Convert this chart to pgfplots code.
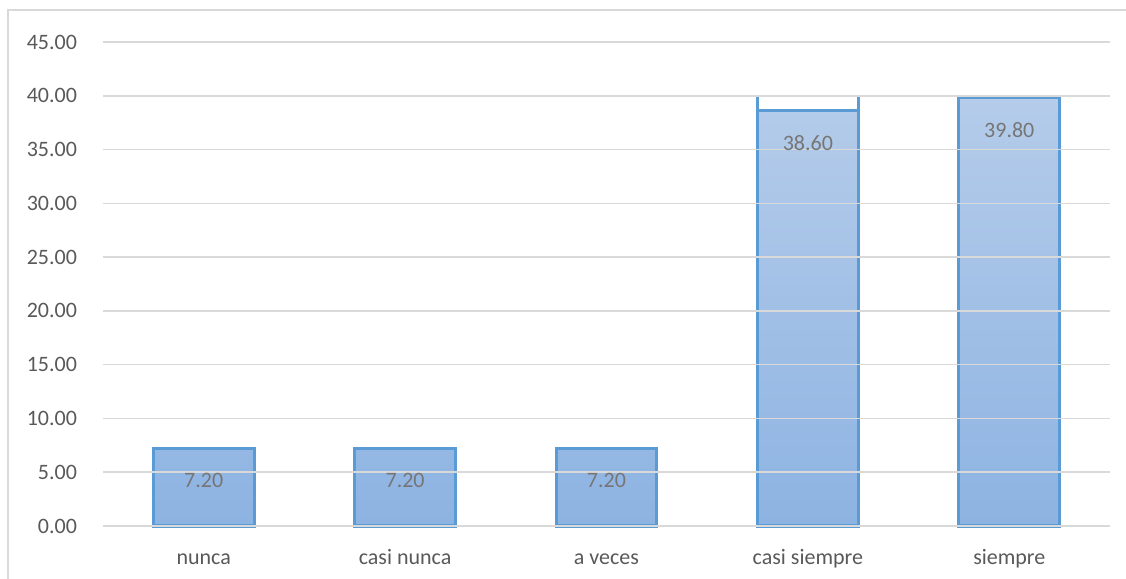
\documentclass[border=0pt]{standalone}
\usepackage{pgfplots}
\pgfplotsset{compat=1.18}
\usepackage{fontspec}
\setmainfont{Carlito}
\definecolor{txt}{HTML}{595959}
\definecolor{lbl}{HTML}{767676}
\definecolor{grd}{HTML}{D9D9D9}
\definecolor{brd}{HTML}{5B9BD5}
\definecolor{topc}{HTML}{B5CCEA}
\definecolor{botc}{HTML}{8DB3E2}
\begin{document}
\begin{tikzpicture}
\useasboundingbox (0,0) rectangle (563pt,289.5pt);
\draw[grd, line width=0.8pt] (4pt,0) -- (4pt,284.5pt) -- (563pt,284.5pt);
\begin{axis}[
  at={(51.5pt,26.5pt)}, anchor=south west,
  scale only axis, width=503.5pt, height=242pt,
  xmin=-0.5, xmax=4.5, ymin=0, ymax=45,
  ytick={0,5,...,45},
  xtick={0,1,2,3,4},
  xticklabels={nunca,casi nunca,a veces,casi siempre,siempre},
  major tick length=0pt,
  axis y line*=left,
  y axis line style={draw=none},
  axis x line*=bottom,
  x axis line style={grd, line width=0.8pt, -},
  ymajorgrids, major grid style={grd, line width=0.8pt},
  axis on top,
  /pgf/number format/assume math mode=true,
  /pgf/number format/.cd, fixed, fixed zerofill, precision=2, /pgfplots/.cd,
  ticklabel style={font=\fontsize{11}{13}\selectfont, text=txt},
  yticklabel style={anchor=east, xshift=-9.5pt},
  xticklabel style={anchor=base, yshift=-19.5pt},
  clip=false,
]
\addplot[ybar, bar width=0.5, draw=brd, line width=1.5pt,
  top color=topc, bottom color=botc,
  nodes near coords,
  nodes near coords style={font=\fontsize{11}{13}\selectfont, text=lbl, anchor=center, yshift=-16pt,
    /pgf/number format/.cd, fixed, fixed zerofill, precision=2, assume math mode=true},
] coordinates {(0,7.2) (1,7.2) (2,7.2) (3,38.6) (4,39.8)};
\addplot[draw=brd, line width=1.5pt] coordinates {(2.75,38.6) (2.75,39.85)};
\addplot[draw=brd, line width=1.5pt] coordinates {(3.25,38.6) (3.25,39.85)};
\end{axis}
\end{tikzpicture}
\end{document}
